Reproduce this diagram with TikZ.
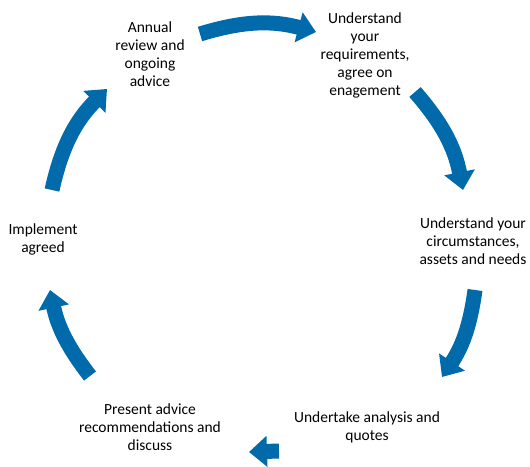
\documentclass[tikz,border=0pt]{standalone}
\usepackage{fontspec}
\setmainfont{Carlito}
\usetikzlibrary{arrows.meta}
\definecolor{cycleblue}{RGB}{0,106,170}
\begin{document}
\begin{tikzpicture}[x=1pt,y=1pt,
        every node/.style={align=center,font=\fontsize{15.5}{18}\selectfont},
        flow/.style={line width=15pt,cycleblue,-{Triangle[width=30pt,length=18pt]}}]
        \useasboundingbox (0,0) rectangle (530,466);

        \node at (150,412) (a) {Annual\\review and\\ongoing\\advice};
        \node at (365,411) (b) {Understand\\your\\requirements,\\agree on\\enagement};
        \node at (473,225) (c) {Understand your\\circumstances,\\assets and needs};
        \node at (367,39)  (d) {Undertake analysis and\\quotes};
        \node at (150,39)  (e) {Present advice\\recommendations and\\discuss};
        \node at (43,227)  (f) {Implement\\agreed};

        \coordinate (a1) at (200,432); \coordinate (a2) at (316,434);
        \coordinate (b1) at (415,374); \coordinate (b2) at (463,276);
        \coordinate (c1) at (475,176); \coordinate (c2) at (442,89);
        \coordinate (d1) at (279,15);  \coordinate (d2) at (249,14);
        \coordinate (e1) at (90,90);   \coordinate (e2) at (50,176);
        \coordinate (f1) at (52,276);  \coordinate (f2) at (107,377);

        \draw[flow] (a1) to[bend left=16] (a2);
        \draw[flow] (b1) to[bend left=15] (b2);
        \draw[flow] (c1) to[bend left=13] (c2);
        \draw[flow] (d1) -- (d2);
        \draw[flow] (e1) to[bend left=13] (e2);
        \draw[flow] (f1) to[bend left=16] (f2);
    \end{tikzpicture}
\end{document}
